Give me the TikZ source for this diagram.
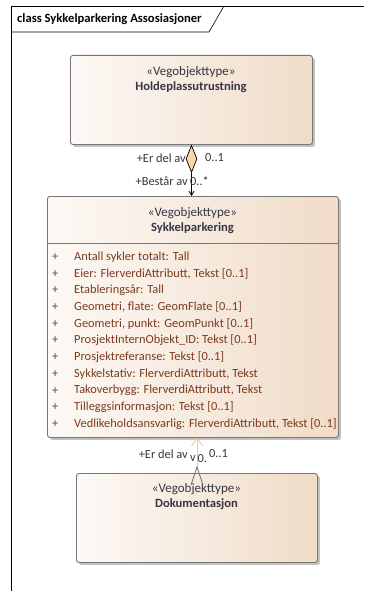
\documentclass[tikz,border=0pt]{standalone}
\usepackage{fontspec}
\setmainfont{Carlito}
\usetikzlibrary{positioning,shapes.geometric,arrows.meta,shadows}
\definecolor{boxleft}{HTML}{FDF9F6}
\definecolor{boxright}{HTML}{F0DCC8}
\definecolor{boxline}{HTML}{777777}
\definecolor{attrcol}{HTML}{7B3B1E}
\definecolor{stereocol}{HTML}{363645}
\definecolor{diamcol}{HTML}{F7D9A8}
\definecolor{linkcol}{HTML}{F2CC9C}
\tikzset{
  classbox/.style={draw=boxline, line width=0.9pt, rounded corners=2.5pt,
    left color=boxleft, right color=boxright, inner sep=0pt, anchor=north west,
    drop shadow={shadow xshift=2.5pt, shadow yshift=-2.5pt, fill=black!30, opacity=0.8}},
  stereo/.style={text=stereocol, font=\fontsize{13}{14}\selectfont, inner sep=0pt},
  classname/.style={text=stereocol, font=\fontsize{12.6}{14}\selectfont\bfseries, inner sep=0pt},
  attr/.style={text=attrcol, anchor=west, font=\fontsize{12.4}{14}\selectfont, inner sep=0pt},
  role/.style={text=stereocol, font=\fontsize{12.4}{14}\selectfont, inner sep=0pt},
}
\begin{document}
\begin{tikzpicture}[x=1pt, y=-1pt]
  \useasboundingbox[fill=white] (0,0) rectangle (364,591);
  %% diagram frame with its name tab
  \draw[black, line width=0.9pt] (11,591) -- (11,6) -- (364,6);
  \draw[black, line width=0.6pt] (11,32) -- (209,32) -- (224,6);
  \node[anchor=west, font=\fontsize{12.6}{14}\selectfont\bfseries, inner sep=0pt] (frametitle) at (17,19) {class Sykkelparkering Assosiasjoner};

  %% the three classes
  \node[classbox, minimum width=242pt, minimum height=89pt] (holde) at (70,55) {};
  \node[stereo] (holdestereo) at (191,72) {«Vegobjekttype»};
  \node[classname] (holdename) at (191,87) {Holdeplassutrustning};

  \node[classbox, minimum width=291pt, minimum height=241pt] (sykkel) at (47,196) {};
  \node[stereo] (sykkelstereo) at (192.5,213) {«Vegobjekttype»};
  \node[classname] (sykkelname) at (192.5,228) {Sykkelparkering};
  \draw[boxline, line width=0.9pt] (47,243) -- (338,243);
  %% attributes, one line each
  \foreach \a [count=\i] in {{Antall sykler totalt: Tall},
      {Eier: FlerverdiAttributt, Tekst [0..1]},
      {Etableringsår: Tall},
      {Geometri, flate: GeomFlate [0..1]},
      {Geometri, punkt: GeomPunkt [0..1]},
      {ProsjektInternObjekt\_ID: Tekst [0..1]},
      {Prosjektreferanse: Tekst [0..1]},
      {Sykkelstativ: FlerverdiAttributt, Tekst},
      {Takoverbygg: FlerverdiAttributt, Tekst},
      {Tilleggsinformasjon: Tekst [0..1]},
      {Vedlikeholdsansvarlig: FlerverdiAttributt, Tekst [0..1]}}
  {
    \node[attr] (plus\i) at (52,{257+(\i-1)*16.7}) {+};
    \node[attr] (attr\i) at (74,{257+(\i-1)*16.7}) {\a};
  }

  \node[classbox, minimum width=241pt, minimum height=89pt] (dok) at (76,473) {};
  \node[stereo] (dokstereo) at (196.5,489) {«Vegobjekttype»};
  \node[classname] (dokname) at (196.5,504) {Dokumentasjon};

  %% aggregation Holdeplassutrustning -- Sykkelparkering
  \node[diamond, draw=black, fill=diamcol, line width=0.7pt, minimum width=11pt, minimum height=27pt, inner sep=0pt, anchor=north] (agg) at (191.5,145) {};
  \draw[black, line width=0.8pt, -{Straight Barb[length=4pt, width=5pt]}] (agg.south) -- (agg.south |- sykkel.north);
  \node[role, anchor=east] (roleerdel) at (186,158) {+Er del av};
  \node[role, anchor=west] (multerdel) at (205,158) {0..1};
  \node[role, anchor=east] (rolebestar) at (188,181) {+Består av};
  \node[role, anchor=west] (multbestar) at (190,181) {0..*};

  %% association Dokumentasjon -- Sykkelparkering
  \coordinate (dokend) at (197,467);
  \draw[linkcol, line width=1pt, -{Straight Barb[length=7pt, width=11pt]}] (dokend) -- (dokend |- sykkel.south);
  \draw[boxline, line width=0.9pt] (191,485) -- (dokend) -- (203,485);
  \node[role, anchor=east] (roleerdel2) at (188,454) {+Er del av};
  \node[role] (navmark) at (193,459) {v};
  \node[role, anchor=west] (multcut) at (197.5,459) {0.};
  \node[role, anchor=west] (multerdel2) at (209,454) {0..1};
\end{tikzpicture}
\end{document}
